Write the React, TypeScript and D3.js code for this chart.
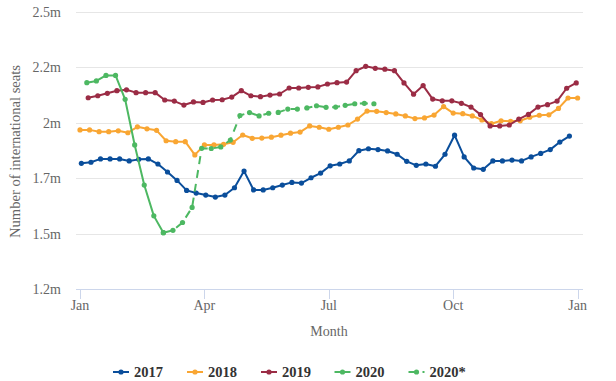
import React from "react";
import * as d3 from "d3";

// ---- data (values in millions of seats, weekly) ----
const tickMonths = ["Jan", "Apr", "Jul", "Oct", "Jan"];
const tickDays = [0, 91, 182, 273, 364];
const yTickValues = [1.25, 1.5, 1.75, 2, 2.25, 2.5];
const yTickLabels = ["1.2m", "1.5m", "1.7m", "2m", "2.2m", "2.5m"];

const seats2017 = [
  1.817, 1.822, 1.837, 1.837, 1.837, 1.828, 1.835, 1.837, 1.814, 1.778,
  1.740, 1.695, 1.683, 1.674, 1.665, 1.674, 1.707, 1.782, 1.697, 1.697,
  1.707, 1.719, 1.731, 1.728, 1.752, 1.773, 1.806, 1.814, 1.828, 1.874,
  1.883, 1.879, 1.873, 1.858, 1.826, 1.808, 1.814, 1.804, 1.858, 1.944,
  1.846, 1.796, 1.790, 1.828, 1.828, 1.832, 1.828, 1.846, 1.862, 1.879,
  1.913, 1.940,
];
const seats2018 = [
  1.968, 1.968, 1.960, 1.960, 1.964, 1.955, 1.982, 1.973, 1.966, 1.919,
  1.915, 1.915, 1.855, 1.900, 1.900, 1.903, 1.912, 1.945, 1.930, 1.931,
  1.935, 1.944, 1.953, 1.958, 1.986, 1.980, 1.971, 1.980, 1.990, 2.017,
  2.053, 2.052, 2.046, 2.040, 2.031, 2.019, 2.022, 2.035, 2.073, 2.044,
  2.041, 2.031, 2.013, 1.996, 2.009, 2.007, 2.009, 2.025, 2.034, 2.036,
  2.065, 2.112, 2.112,
];
const seats2019 = [
  2.113, 2.122, 2.133, 2.145, 2.149, 2.136, 2.136, 2.136, 2.103, 2.098,
  2.080, 2.094, 2.092, 2.103, 2.104, 2.116, 2.145, 2.122, 2.118, 2.125,
  2.130, 2.157, 2.157, 2.160, 2.162, 2.175, 2.181, 2.184, 2.235, 2.255,
  2.246, 2.242, 2.235, 2.180, 2.129, 2.168, 2.107, 2.099, 2.099, 2.088,
  2.071, 2.037, 1.986, 1.986, 1.990, 2.017, 2.038, 2.071, 2.082, 2.098,
  2.156, 2.180,
];
const seats2020 = [2.181, 2.189, 2.214, 2.214, 2.106, 1.900, 1.719, 1.580, 1.504];
const seats2020Proj = [
  1.504, 1.515, 1.550, 1.618, 1.885, 1.884, 1.891, 1.922, 2.033, 2.046,
  2.031, 2.043, 2.047, 2.062, 2.062, 2.067, 2.077, 2.070, 2.071, 2.079,
  2.086, 2.088, 2.086,
];

// first day-of-year of each weekly series (Mondays)
const seriesNames = ["2017", "2018", "2019", "2020", "2020*"];
const seriesStartDays = [1, 0, 6, 5, 5 + 7 * 8];
const seriesColors = ["#0a4e9b", "#f9a633", "#9b2c45", "#4db862", "#4db862"];
const seriesDashed = [false, false, false, false, true];
const seriesValues = [seats2017, seats2018, seats2019, seats2020, seats2020Proj];

const W = 616;
const H = 381;
const plotLeft = 76;
const plotRight = 583;
const plotTop = 12;
const plotBottom = 289;
const font = "'Liberation Serif', 'Times New Roman', serif";

export default function App() {
  const x = d3.scaleLinear().domain([0, 364]).range([80, 577.6]);
  const y = d3.scaleLinear().domain([1.25, 2.5]).range([plotBottom, plotTop]);

  const series = seriesValues.map((vals, si) =>
    vals.map((v, i) => ({ day: seriesStartDays[si] + 7 * i, v }))
  );
  const line = d3
    .line<{ day: number; v: number }>()
    .x((d) => x(d.day))
    .y((d) => y(d.v));

  const legendX = [113, 187, 261, 334.5, 408.5];
  const legendY = 372;

  return (
    <div style={{ position: "absolute", left: 0, top: 0 }}>
      <svg width={W} height={H} style={{ display: "block", fontFamily: font }}>
        <rect width={W} height={H} fill="#ffffff" />
        {/* grid lines */}
        {yTickValues.map((t, i) => (
          <line
            key={"g" + i}
            x1={plotLeft}
            x2={plotRight}
            y1={Math.round(y(t)) + 0.5}
            y2={Math.round(y(t)) + 0.5}
            stroke={i === 0 ? "#ccd6eb" : "#e6e6e6"}
            strokeWidth={1}
          />
        ))}
        {/* y labels */}
        {yTickValues.map((t, i) => (
          <text
            key={"yl" + i}
            x={61}
            y={y(t) + 5}
            textAnchor="end"
            fontSize={14}
            fill="#666666"
          >
            {yTickLabels[i]}
          </text>
        ))}
        {/* y title */}
        <text
          transform={`translate(20,${(plotTop + plotBottom) / 2 + 1}) rotate(-90)`}
          textAnchor="middle"
          fontSize={14.6}
          fill="#666666"
        >
          Number of international seats
        </text>
        {/* x ticks */}
        {tickDays.map((d, i) => (
          <g key={"xt" + i}>
            <line
              x1={Math.round(x(d)) + 0.5}
              x2={Math.round(x(d)) + 0.5}
              y1={plotBottom}
              y2={plotBottom + 10}
              stroke="#ccd6eb"
            />
            <text
              x={x(d)}
              y={plotBottom + 21}
              textAnchor="middle"
              fontSize={14}
              fill="#666666"
            >
              {tickMonths[i]}
            </text>
          </g>
        ))}
        <text x={329} y={336} textAnchor="middle" fontSize={14} fill="#666666">
          Month
        </text>
        {/* series */}
        {series.map((pts, si) => (
          <g key={"s" + si}>
            <path
              d={line(pts) || ""}
              fill="none"
              stroke={seriesColors[si]}
              strokeWidth={2}
              strokeLinejoin="round"
              strokeLinecap={seriesDashed[si] ? "butt" : "round"}
              strokeDasharray={seriesDashed[si] ? "8,6" : undefined}
            />
            {pts.map((p, i) => (
              <circle
                key={i}
                cx={x(p.day)}
                cy={y(p.v)}
                r={2.6}
                fill={seriesColors[si]}
              />
            ))}
          </g>
        ))}
        {/* legend */}
        {seriesNames.map((n, i) => (
          <g key={"lg" + i} transform={`translate(${legendX[i]},${legendY})`}>
            <line
              x1={0}
              x2={16}
              y1={0}
              y2={0}
              stroke={seriesColors[i]}
              strokeWidth={2}
              strokeDasharray={seriesDashed[i] ? "8,6" : undefined}
            />
            <circle cx={8} cy={0} r={2.6} fill={seriesColors[i]} />
            <text
              x={21}
              y={5}
              fontSize={14.5}
              fontWeight="bold"
              fill="#333333"
            >
              {n}
            </text>
          </g>
        ))}
      </svg>
    </div>
  );
}
